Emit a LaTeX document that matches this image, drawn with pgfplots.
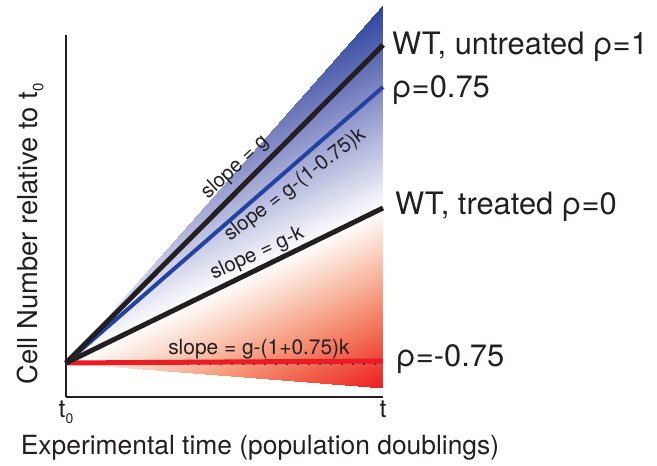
\documentclass[border=0pt]{standalone}
\usepackage{pgfplots}
\pgfplotsset{compat=1.18}
\usepackage{fontspec}
\setmainfont{TeX Gyre Heros}
\definecolor{inkblack}{HTML}{231F20}
\definecolor{lineblue}{HTML}{2443A0}
\definecolor{linered}{HTML}{EC1C24}

\begin{document}
\begin{tikzpicture}
\path[use as bounding box] (-66bp,-69bp) rectangle (591bp,397bp);
\begin{axis}[
    at={(0,0)}, anchor=south west,
    scale only axis, width=317bp, height=362bp,
    xmin=0, xmax=1, ymin=-34, ymax=328,
    axis lines=left,
    axis line style={-, line width=2bp, draw=inkblack},
    clip=false,
    xtick={0,1},
    xticklabels={t\raisebox{-6bp}{\fontsize{14}{14}\selectfont 0}, t},
    ytick=\empty,
    major tick length=0pt,
    xticklabel style={font=\fontsize{25}{30}\selectfont, text=inkblack},
    % white along the treated line, red below it, blue above it
    colormap={fan}{rgb255(0)=(237,28,36); rgb255(1)=(240,90,70); rgb255(2)=(245,150,121);
      rgb255(3)=(250,205,187); rgb255(4)=(255,255,255); rgb255(5)=(200,203,230);
      rgb255(6)=(148,154,205); rgb255(7)=(95,108,180); rgb255(8)=(44,68,158)},
    point meta min=-1, point meta max=1,
]
\addplot[patch, shader=interp, point meta=explicit] table[meta=c, row sep=\\] {
x y c \\
0 0 0 \\ 1 358 1 \\ 1 155 0 \\
0 0 0 \\ 1 155 0 \\ 1 -25 -1 \\
};

\addplot[inkblack, line width=2bp, dash pattern=on 2bp off 9bp] coordinates {(0,-1) (1,-1)};
\addplot[linered, line width=5bp] coordinates {(0,0) (1,2)};
\addplot[inkblack, line width=5bp] coordinates {(0,0) (1,155)};
\addplot[lineblue, line width=4bp] coordinates {(0,0) (1,276)};
\addplot[inkblack, line width=5bp] coordinates {(0,0) (1,318)};

\begin{scope}[every node/.style={text=inkblack, inner sep=0pt}]
\node[font=\fontsize{31}{36}\selectfont, anchor=base west] at (axis cs:1.028,308) {WT, untreated ρ=1};
\node[font=\fontsize{31}{36}\selectfont, anchor=base west] at (axis cs:1.028,265) {ρ=0.75};
\node[font=\fontsize{31}{36}\selectfont, anchor=base west] at (axis cs:1.038,148) {WT, treated ρ=0};
\node[font=\fontsize{31}{36}\selectfont, anchor=base west] at (axis cs:1.041,-3) {ρ=-0.75};

\node[font=\fontsize{20.5}{24}\selectfont, anchor=base west, rotate=43] at (axis cs:0.448,163) {slope = g};
\node[font=\fontsize{20.5}{24}\selectfont, anchor=base west, rotate=37.5] at (axis cs:0.517,121) {slope = g-(1-0.75)k};
\node[font=\fontsize{20.5}{24}\selectfont, anchor=base west, rotate=25] at (axis cs:0.466,83) {slope = g-k};
\node[font=\fontsize{21}{24}\selectfont, anchor=base west] at (axis cs:0.322,8) {slope = g-(1+0.75)k};

\node[font=\fontsize{26.5}{30}\selectfont, anchor=base] at (axis cs:0.612,-91) {Experimental time (population doublings)};
\node[font=\fontsize{27.5}{30}\selectfont, anchor=base, rotate=90] at (axis cs:-0.09,129)
  {Cell Number relative to t\raisebox{-6bp}{\fontsize{15}{15}\selectfont 0}};
\end{scope}
\end{axis}
\end{tikzpicture}
\end{document}
